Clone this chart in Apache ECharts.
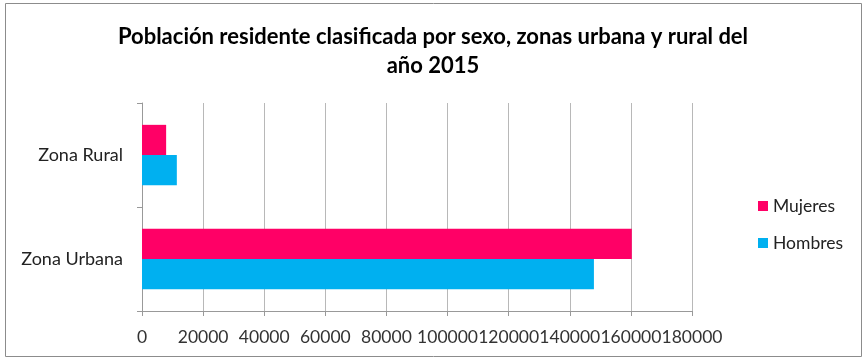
<!DOCTYPE html>
<html>
<head>
<meta charset="utf-8">
<script src="https://cdn.jsdelivr.net/npm/echarts@6/dist/echarts.min.js"></script>
<style>
  html, body { margin: 0; padding: 0; background: #fff; }
  #chart { width: 866px; height: 359px; }
</style>
</head>
<body>
<div id="chart"></div>
<script>
// Population by sex, urban and rural zones (2015)
const zonas = ['Zona Urbana', 'Zona Rural'];
const mujeres = [160300, 7900];
const hombres = [147900, 11400];
const xTicks = { min: 0, max: 180000, interval: 20000 };

const chart = echarts.init(document.getElementById('chart'));
const font = 'Lato, Open Sans, sans-serif';

chart.setOption({
  animation: false,
  backgroundColor: '#ffffff',
  title: {
    text: 'Población residente clasificada por sexo, zonas urbana y rural del\naño 2015',
    left: 'center',
    top: 17,
    textStyle: { fontFamily: font, fontSize: 22, fontWeight: 'bold', color: '#000', lineHeight: 29 }
  },
  legend: {
    orient: 'vertical',
    left: 753,
    top: 192,
    itemWidth: 10,
    itemHeight: 10,
    itemGap: 19,
    icon: 'rect',
    data: ['Mujeres', 'Hombres'],
    textStyle: { fontFamily: font, fontSize: 17.5, color: '#222' }
  },
  grid: { left: 142, right: 174, top: 103, bottom: 48, containLabel: false },
  xAxis: {
    type: 'value',
    min: xTicks.min,
    max: xTicks.max,
    interval: xTicks.interval,
    axisLine: { show: true, lineStyle: { color: '#999' } },
    axisTick: { show: true, length: 5, lineStyle: { color: '#999' } },
    splitLine: { show: true, lineStyle: { color: '#b8b8b8' } },
    axisLabel: { fontFamily: font, fontSize: 17.5, color: '#333', margin: 17, formatter: v => String(v) }
  },
  yAxis: {
    type: 'category',
    data: zonas,
    axisLine: { show: true, lineStyle: { color: '#999' } },
    axisTick: { show: true, length: 5, lineStyle: { color: '#999' } },
    axisLabel: { fontFamily: font, fontSize: 18, color: '#222', margin: 19 }
  },
  series: [
    {
      name: 'Mujeres', type: 'bar', data: mujeres,
      itemStyle: { color: '#FF0066' },
      barGap: '0%', barCategoryGap: '42%'
    },
    {
      name: 'Hombres', type: 'bar', data: hombres,
      itemStyle: { color: '#00B0F0' },
      barGap: '0%', barCategoryGap: '42%'
    }
  ],
  graphic: [{
    type: 'rect',
    shape: { x: 5.5, y: 3.5, width: 856, height: 353 },
    style: { fill: 'none', stroke: '#8c8c8c', lineWidth: 1 },
    silent: true
  }]
});
</script>
</body>
</html>
